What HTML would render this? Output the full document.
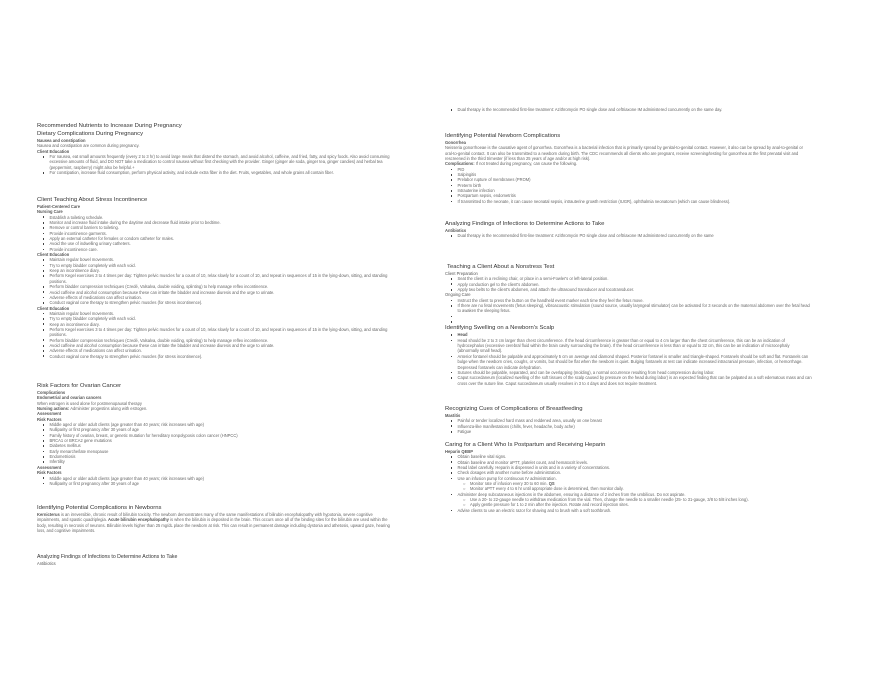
<!DOCTYPE html>
<html><head><meta charset="utf-8"><style>
*{margin:0;padding:0;box-sizing:border-box}
body{width:880px;height:680px;background:#fff;position:relative;overflow:hidden;font-family:"Liberation Sans",sans-serif;color:#666;font-size:4.1px;line-height:5.35px}
.s{position:absolute}
.L{left:37px;width:360px}
.R{left:445px;width:367px}
h2{font-size:5.9px;line-height:8px;font-weight:normal;color:#333}
h3{font-size:4.1px;line-height:5.35px;font-weight:bold;color:#555}
b{color:#555}
ul{list-style:none;padding-left:12.5px}
li{position:relative}
ul.top>li:before{content:"";position:absolute;left:-7px;top:1.8px;width:1.8px;height:1.8px;background:#444}
ul ul>li:before{content:"\25CB";position:absolute;left:-7px;top:0;font-size:4px;line-height:5.35px;color:#555}
</style></head><body>

<div class="s L" style="top:122px">
<h2>Recommended Nutrients to Increase During Pregnancy</h2>
<h2>Dietary Complications During Pregnancy</h2>
<h3>Nausea and constipation</h3>
<p>Nausea and constipation are common during pregnancy.</p>
<h3>Client Education</h3>
<ul class="top">
<li>For nausea, eat small amounts frequently (every 2 to 3 hr) to avoid large meals that distend the stomach, and avoid alcohol, caffeine, and fried, fatty, and spicy foods. Also avoid consuming excessive amounts of fluid, and DO NOT take a medication to control nausea without first checking with the provider. Ginger (ginger ale soda, ginger tea, ginger candies) and herbal tea (peppermint, raspberry) might also be helpful.+</li>
<li>For constipation, increase fluid consumption, perform physical activity, and include extra fiber in the diet. Fruits, vegetables, and whole grains all contain fiber.</li>
</ul>
</div>

<div class="s L" style="top:196px">
<h2>Client Teaching About Stress Incontinence</h2>
<h3>Patient-Centered Care</h3>
<h3>Nursing Care</h3>
<ul class="top">
<li>Establish a toileting schedule.</li>
<li>Monitor and increase fluid intake during the daytime and decrease fluid intake prior to bedtime.</li>
<li>Remove or control barriers to toileting.</li>
<li>Provide incontinence garments.</li>
<li>Apply an external catheter for females or condom catheter for males.</li>
<li>Avoid the use of indwelling urinary catheters.</li>
<li>Provide incontinence care.</li>
</ul>
<h3>Client Education</h3>
<ul class="top">
<li>Maintain regular bowel movements.</li>
<li>Try to empty bladder completely with each void.</li>
<li>Keep an incontinence diary.</li>
<li>Perform Kegel exercises 3 to 4 times per day: Tighten pelvic muscles for a count of 10, relax slowly for a count of 10, and repeat in sequences of 15 in the lying-down, sitting, and standing positions.</li>
<li>Perform bladder compression techniques (Credé, Valsalva, double voiding, splinting) to help manage reflex incontinence.</li>
<li>Avoid caffeine and alcohol consumption because these can irritate the bladder and increase diuresis and the urge to urinate.</li>
<li>Adverse effects of medications can affect urination.</li>
<li>Conduct vaginal cone therapy to strengthen pelvic muscles (for stress incontinence).</li>
</ul>
<h3>Client Education</h3>
<ul class="top">
<li>Maintain regular bowel movements.</li>
<li>Try to empty bladder completely with each void.</li>
<li>Keep an incontinence diary.</li>
<li>Perform Kegel exercises 3 to 4 times per day: Tighten pelvic muscles for a count of 10, relax slowly for a count of 10, and repeat in sequences of 15 in the lying-down, sitting, and standing positions.</li>
<li>Perform bladder compression techniques (Credé, Valsalva, double voiding, splinting) to help manage reflex incontinence.</li>
<li>Avoid caffeine and alcohol consumption because these can irritate the bladder and increase diuresis and the urge to urinate.</li>
<li>Adverse effects of medications can affect urination.</li>
<li>Conduct vaginal cone therapy to strengthen pelvic muscles (for stress incontinence).</li>
</ul>
</div>

<div class="s L" style="top:382px">
<h2>Risk Factors for Ovarian Cancer</h2>
<h3>Complications</h3>
<h3>Endometrial and ovarian cancers</h3>
<p>When estrogen is used alone for postmenopausal therapy</p>
<p><b>Nursing actions:</b> Administer progestins along with estrogen.</p>
<h3>Assessment</h3>
<h3>Risk Factors</h3>
<ul class="top">
<li>Middle aged or older adult clients (age greater than 40 years; risk increases with age)</li>
<li>Nulliparity or first pregnancy after 30 years of age</li>
<li>Family history of ovarian, breast, or genetic mutation for hereditary nonpolyposis colon cancer (HNPCC)</li>
<li>BRCA1 or BRCA2 gene mutations</li>
<li>Diabetes mellitus</li>
<li>Early menarche/late menopause</li>
<li>Endometriosis</li>
<li>Infertility</li>
</ul>
<h3>Assessment</h3>
<h3>Risk Factors</h3>
<ul class="top">
<li>Middle aged or older adult clients (age greater than 40 years; risk increases with age)</li>
<li>Nulliparity or first pregnancy after 30 years of age</li>
</ul>
</div>

<div class="s L" style="top:504px">
<h2>Identifying Potential Complications in Newborns</h2>
<p><b>Kernicterus</b> is an irreversible, chronic result of bilirubin toxicity. The newborn demonstrates many of the same manifestations of bilirubin encephalopathy with hypotonia, severe cognitive impairments, and spastic quadriplegia. <b>Acute bilirubin encephalopathy</b> is when the bilirubin is deposited in the brain. This occurs once all of the binding sites for the bilirubin are used within the body, resulting in necrosis of neurons. Bilirubin levels higher than 25 mg/dL place the newborn at risk. This can result in permanent damage including dystonia and athetosis, upward gaze, hearing loss, and cognitive impairments.</p>
</div>

<div class="s L" style="top:553px">
<h2 style="font-size:5.2px">Analyzing Findings of Infections to Determine Actions to Take</h2>
<h3 style="font-weight:normal;color:#555">Antibiotics</h3>
</div>

<div class="s R" style="top:107px">
<ul class="top"><li>Dual therapy is the recommended first-line treatment: Azithromycin PO single dose and ceftriaxone IM administered concurrently on the same day.</li></ul>
</div>

<div class="s R" style="top:132px">
<h2>Identifying Potential Newborn Complications</h2>
<h3>Gonorrhea</h3>
<p>Neisseria gonorrhoeae is the causative agent of gonorrhea. Gonorrhea is a bacterial infection that is primarily spread by genital-to-genital contact. However, it also can be spread by anal-to-genital or oral-to-genital contact. It can also be transmitted to a newborn during birth. The CDC recommends all clients who are pregnant, receive screening/testing for gonorrhea at the first prenatal visit and rescreened in the third trimester (if less than 25 years of age and/or at high risk).</p>
<p><b>Complications:</b> If not treated during pregnancy, can cause the following.</p>
<ul class="top">
<li>PID</li>
<li>Salpingitis</li>
<li>Prelabor rupture of membranes (PROM)</li>
<li>Preterm birth</li>
<li>Intrauterine infection</li>
<li>Postpartum sepsis, endometritis</li>
<li>If transmitted to the neonate, it can cause neonatal sepsis, intrauterine growth restriction (IUGR), ophthalmia neonatorum (which can cause blindness).</li>
</ul>
</div>

<div class="s R" style="top:220px">
<h2>Analyzing Findings of Infections to Determine Actions to Take</h2>
<h3>Antibiotics</h3>
<ul class="top"><li>Dual therapy is the recommended first-line treatment: Azithromycin PO single dose and ceftriaxone IM administered concurrently on the same</li></ul>
</div>

<div class="s R" style="top:263px">
<h2 style="padding-left:2px">Teaching a Client About a Nonstress Test</h2>
<h3 style="font-weight:normal;color:#555">Client Preparation</h3>
<ul class="top">
<li>Seat the client in a reclining chair, or place in a semi-Fowler's or left-lateral position.</li>
<li>Apply conduction gel to the client's abdomen.</li>
<li>Apply two belts to the client's abdomen, and attach the  ultrasound transducer and tocotransducer.</li>
</ul>
<h3 style="font-weight:normal;color:#555">Ongoing Care</h3>
<ul class="top">
<li>Instruct the client to press the button on the handheld event marker each time they feel the fetus move.</li>
<li>If there are no fetal movements (fetus sleeping), vibroacoustic stimulation (sound source, usually laryngeal stimulator) can be activated for 3 seconds on the maternal abdomen over the fetal head to awaken the sleeping fetus.</li>
<li>&nbsp;</li>
<li>&nbsp;</li>
</ul>
<h2>Identifying Swelling on a Newborn's Scalp</h2>
<ul class="top">
<li><b>Head</b></li>
<li>Head should be 2 to 3 cm larger than chest circumference. If the head circumference is greater than or equal to 4 cm larger than the chest circumference, this can be an indication of hydrocephalus (excessive cerebral fluid within the brain cavity surrounding the brain). If the head circumference is less than or equal to 32 cm, this can be an indication of microcephaly (abnormally small head).</li>
<li>Anterior fontanel should be palpable and approximately 5 cm on average and diamond shaped. Posterior fontanel is smaller and triangle-shaped. Fontanels should be soft and flat. Fontanels can bulge when the newborn cries, coughs, or vomits, but should be flat when the newborn is quiet. Bulging fontanels at rest can indicate increased intracranial pressure, infection, or hemorrhage. Depressed fontanels can indicate dehydration.</li>
<li>Sutures should be palpable, separated, and can be overlapping (molding), a normal occurrence resulting from head compression during labor.</li>
<li>Caput succedaneum (localized swelling of the soft tissues of the scalp caused by pressure on the head during labor) is an expected finding that can be palpated as a soft edematous mass and can cross over the suture line. Caput succedaneum usually resolves in 3 to 4 days and does not require treatment.</li>
</ul>
</div>

<div class="s R" style="top:405px">
<h2>Recognizing Cues of Complications of Breastfeeding</h2>
<h3>Mastitis</h3>
<ul class="top">
<li>Painful or tender localized hard mass and reddened area, usually on one breast</li>
<li>Influenza-like manifestations (chills, fever, headache, body ache)</li>
<li>Fatigue</li>
</ul>
</div>

<div class="s R" style="top:441px">
<h2>Caring for a Client Who Is Postpartum and Receiving Heparin</h2>
<h3>Heparin QEBP</h3>
<ul class="top">
<li>Obtain baseline vital signs.</li>
<li>Obtain baseline and monitor aPTT, platelet count, and hematocrit levels.</li>
<li>Read label carefully. Heparin is dispensed in units and in a variety of concentrations.</li>
<li>Check dosages with another nurse before administration.</li>
<li>Use an infusion pump for continuous IV administration.
<ul><li>Monitor rate of infusion every 30 to 60 min. <b>QS</b></li>
<li>Monitor aPTT every 4 to 6 hr until appropriate dose is determined, then monitor daily.</li></ul></li>
<li>Administer deep subcutaneous injections in the abdomen, ensuring a distance of 2 inches from the umbilicus. Do not aspirate.
<ul><li>Use a 20- to 22-gauge needle to withdraw medication from the vial. Then, change the needle to a smaller needle (25- to 31-gauge, 3/8 to 5/8 inches long).</li>
<li>Apply gentle pressure for 1 to 2 min after the injection. Rotate and record injection sites.</li></ul></li>
<li>Advise clients to use an electric razor for shaving and to brush with a soft toothbrush.</li>
</ul>
</div>

</body></html>
